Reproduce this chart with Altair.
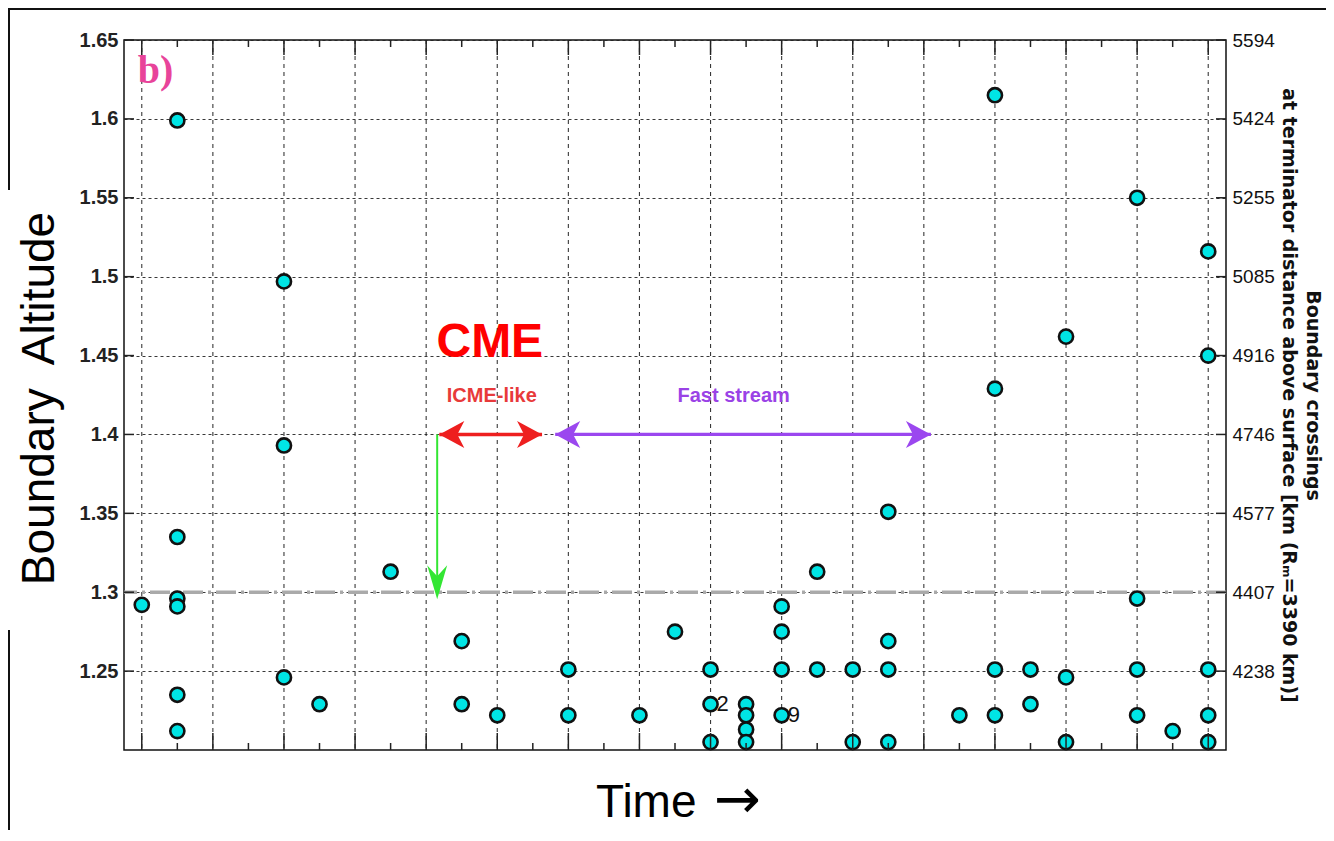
import altair as alt
import pandas as pd

# ---------------- data ----------------
# x: half-grid units (one vertical grid line every 2 units), y: boundary altitude (R_M)
day = [0,
       1, 1, 1, 1, 1, 1,
       4, 4, 4,
       5,
       7,
       9, 9,
       10,
       12, 12,
       14,
       15,
       16, 16, 16,
       17, 17, 17, 17,
       18, 18, 18, 18,
       19, 19,
       20, 20,
       21, 21, 21, 21,
       23,
       24, 24, 24, 24,
       25, 25,
       26, 26, 26,
       28, 28, 28, 28,
       29,
       30, 30, 30, 30, 30]
altitude = [1.292,
            1.599, 1.335, 1.296, 1.291, 1.235, 1.212,
            1.497, 1.393, 1.246,
            1.229,
            1.313,
            1.269, 1.229,
            1.222,
            1.251, 1.222,
            1.222,
            1.275,
            1.251, 1.229, 1.205,
            1.229, 1.222, 1.213, 1.205,
            1.291, 1.275, 1.251, 1.222,
            1.313, 1.251,
            1.251, 1.205,
            1.351, 1.269, 1.251, 1.205,
            1.222,
            1.615, 1.429, 1.251, 1.222,
            1.251, 1.229,
            1.462, 1.246, 1.205,
            1.550, 1.296, 1.251, 1.222,
            1.212,
            1.516, 1.450, 1.251, 1.222, 1.205]

count_labels = ["2", "9"]
count_days = [16, 18]
count_alts = [1.229, 1.222]

threshold = [1.3]
y_ticks = [1.25, 1.3, 1.35, 1.4, 1.45, 1.5, 1.55, 1.6, 1.65]
major_days = list(range(0, 31, 2))
minor_days = list(range(1, 30, 2))

arrow_level = 1.4
icme_span = [8.37, 11.26]
fast_span = [11.63, 22.2]
cme_onset = 8.31
cme_tip = 1.2955

RM_KM = 3390

# ---------------- layout ----------------
W, H = 1102, 710
xs = alt.Scale(domain=[-0.5, 30.5], nice=False, zero=False)
ys = alt.Scale(domain=[1.2, 1.65], nice=False, zero=False)

pts_df = pd.DataFrame({"day": day, "alt": altitude})
ytick_df = pd.DataFrame({"v": y_ticks})
major_df = pd.DataFrame({"d": major_days})
minor_df = pd.DataFrame({"d": minor_days})
thr_df = pd.DataFrame({"v": threshold})
one = pd.DataFrame({"a": [0]})

GRIDC = "#222222"

# vertical dashed grid
vgrid = alt.Chart(major_df).mark_rule(color=GRIDC, strokeDash=[4, 4], strokeWidth=1.1, opacity=0.9).encode(
    x=alt.X("d:Q", scale=xs, axis=None)
)

# threshold dashed line
thr = alt.Chart(thr_df).mark_rule(color="#aaaaaa", strokeWidth=3.6, strokeDash=[20, 5, 3, 5]).encode(
    y=alt.Y("v:Q", scale=ys, axis=None)
)

def hline(span, color, width):
    df = pd.DataFrame({"x": [span[0]], "x2": [span[1]], "y": [arrow_level]})
    return alt.Chart(df).mark_rule(color=color, strokeWidth=width).encode(
        x=alt.X("x:Q", scale=xs, axis=None), x2="x2:Q", y=alt.Y("y:Q", scale=ys, axis=None)
    )

RIGHT_HEAD = "M0,0 L-2.5,-1.35 L-1.8,0 L-2.5,1.35 Z"
LEFT_HEAD = "M0,0 L2.5,-1.35 L1.8,0 L2.5,1.35 Z"
DOWN_HEAD = "M0,0 L-1,-3.4 L0,-2.3 L1,-3.4 Z"

def head(xv, yv, shape, color, size=400):
    df = pd.DataFrame({"x": [xv], "y": [yv]})
    return alt.Chart(df).mark_point(shape=shape, filled=True, size=size, color=color,
                                     opacity=1, strokeWidth=0).encode(
        x=alt.X("x:Q", scale=xs, axis=None), y=alt.Y("y:Q", scale=ys, axis=None)
    )

RED = "#ee1f1f"
PURPLE = "#9b47ef"
GREEN = "#33e633"

red_line = hline(icme_span, RED, 3.5)
red_l = head(icme_span[0], arrow_level, LEFT_HEAD, RED)
red_r = head(icme_span[1], arrow_level, RIGHT_HEAD, RED)
pur_line = hline(fast_span, PURPLE, 3.2)
pur_l = head(fast_span[0], arrow_level, LEFT_HEAD, PURPLE)
pur_r = head(fast_span[1], arrow_level, RIGHT_HEAD, PURPLE)

green_df = pd.DataFrame({"x": [cme_onset], "y": [arrow_level], "y2": [cme_tip + 0.01]})
green_line = alt.Chart(green_df).mark_rule(color=GREEN, strokeWidth=2).encode(
    x=alt.X("x:Q", scale=xs, axis=None), y=alt.Y("y:Q", scale=ys, axis=None), y2="y2:Q"
)
green_head = head(cme_onset, cme_tip, DOWN_HEAD, GREEN)

# points (carry the left y axis)
pts = alt.Chart(pts_df).mark_circle(size=200, color="#00e5e5", opacity=1,
                                    stroke="#111111", strokeWidth=2.6).encode(
    x=alt.X("day:Q", scale=xs, axis=None),
    y=alt.Y("alt:Q", scale=ys, axis=alt.Axis(
        values=y_ticks, format="~g", ticks=False, domain=False, labelFont="Liberation Sans",
        labelFontSize=20, labelFontWeight="bold", labelColor="#222222", labelPadding=6,
        grid=True, gridColor=GRIDC, gridDash=[3, 3], gridWidth=1.1, gridOpacity=0.9,
        title="Boundary\u00a0 Altitude", titleFont="Liberation Sans", titleFontSize=46,
        titleFontWeight="normal", titleColor="#000000", titleAngle=-90,
        titleX=-71, titleY=358, titleAlign="center", titleBaseline="alphabetic")),
)

cnt_df = pd.DataFrame({"t": count_labels, "day": count_days, "alt": count_alts})
cnt = alt.Chart(cnt_df).mark_text(align="left", baseline="middle", dx=6,
                                   font="Liberation Sans Narrow, Liberation Sans",
                                   fontSize=22, color="#111111").encode(
    x=alt.X("day:Q", scale=xs, axis=None), y=alt.Y("alt:Q", scale=ys, axis=None), text="t:N"
)

def label(txt, xv, yv, **kw):
    df = pd.DataFrame({"t": [txt], "x": [xv], "y": [yv]})
    return alt.Chart(df).mark_text(**kw).encode(
        x=alt.X("x:Q", scale=xs, axis=None), y=alt.Y("y:Q", scale=ys, axis=None), text="t:N"
    )

panel = label("b)", -0.11, 1.6227, align="left", baseline="alphabetic", font="Liberation Serif",
              fontSize=40, fontWeight="bold", color="#e8449a")
cme = label("CME", 9.79, 1.4491, align="center", baseline="alphabetic", font="Liberation Sans",
            fontSize=48, fontWeight="bold", color="#ff0000")
icme = label("ICME-like", 9.845, 1.4206, align="center", baseline="alphabetic",
             font="Liberation Sans Narrow, Liberation Sans", fontSize=20, fontWeight="bold", color="#e83a3a")
fast = label("Fast stream", 16.65, 1.4206, align="center", baseline="alphabetic",
             font="Liberation Sans Narrow, Liberation Sans", fontSize=20, fontWeight="bold", color="#9a42e6")

# x-axis title: word and a larger arrow glyph
time_word = alt.Chart(one).mark_text(text="Time", align="left", baseline="alphabetic",
                                     font="Liberation Sans", fontSize=46, color="#000000").encode(
    x=alt.value(472), y=alt.value(H + 67)
)
time_arrow = alt.Chart(one).mark_text(text="\u2192", align="left", baseline="alphabetic",
                                      font="DejaVu Sans", fontSize=56,
                                      color="#000000").encode(
    x=alt.value(590), y=alt.value(H + 68)
)

# inward ticks
TICK = "#222222"
left_ticks = alt.Chart(ytick_df).mark_rule(color=TICK, strokeWidth=1.5).encode(
    x=alt.value(0), x2=alt.value(10), y=alt.Y("v:Q", scale=ys, axis=None)
)
right_ticks = alt.Chart(ytick_df).mark_rule(color=TICK, strokeWidth=1.5).encode(
    x=alt.value(W - 10), x2=alt.value(W),
    y=alt.Y("v:Q", scale=ys, axis=alt.Axis(
        orient="right", values=y_ticks, ticks=False, domain=False, grid=False,
        labelExpr=f"format(round(datum.value*{RM_KM}+0.001), 'd')",
        labelFont="Liberation Sans Narrow, Liberation Sans", labelFontSize=19, labelColor="#111111",
        labelPadding=6,
        title=["Boundary crossings", "at terminator distance above surface [km (R\u2098=3390 km)]"],
        titleAngle=90, titleFont="DejaVu Sans", titleFontSize=19, titleFontWeight="bold",
        titleColor="#111111", titleLineHeight=24, titlePadding=4)),
)

def xticks(df, y0, y1):
    return alt.Chart(df).mark_rule(color=TICK, strokeWidth=1.5).encode(
        x=alt.X("d:Q", scale=xs, axis=None), y=alt.value(y0), y2=alt.value(y1)
    )

bot_major = xticks(major_df, H, H - 17)
bot_minor = xticks(minor_df, H, H - 7)
top_major = xticks(major_df, 0, 15)
top_minor = xticks(minor_df, 0, 7)

# outer picture frame
FR = "#111111"
frame_top = alt.Chart(one).mark_rule(color=FR, strokeWidth=2).encode(
    x=alt.value(-116), x2=alt.value(W + 100), y=alt.value(-31))
frame_l1 = alt.Chart(one).mark_rule(color=FR, strokeWidth=2).encode(
    x=alt.value(-115), y=alt.value(-31), y2=alt.value(150))
frame_l2 = alt.Chart(one).mark_rule(color=FR, strokeWidth=2).encode(
    x=alt.value(-115), y=alt.value(590), y2=alt.value(H + 80))

chart = alt.layer(
    vgrid, thr, green_line, green_head,
    red_line, red_l, red_r, pur_line, pur_l, pur_r,
    pts, cnt, panel, cme, icme, fast, time_word, time_arrow,
    left_ticks, right_ticks, bot_major, bot_minor, top_major, top_minor,
    frame_top, frame_l1, frame_l2,
).resolve_axis(y="independent").properties(
    width=W, height=H,
    autosize=alt.AutoSizeParams(type="none"),
    padding={"left": 116, "top": 32, "right": 100, "bottom": 80},
    background="white",
).configure_view(stroke="#111111", strokeWidth=1.5)

chart.save("out.html", embed_options={"renderer": "svg", "actions": False})
